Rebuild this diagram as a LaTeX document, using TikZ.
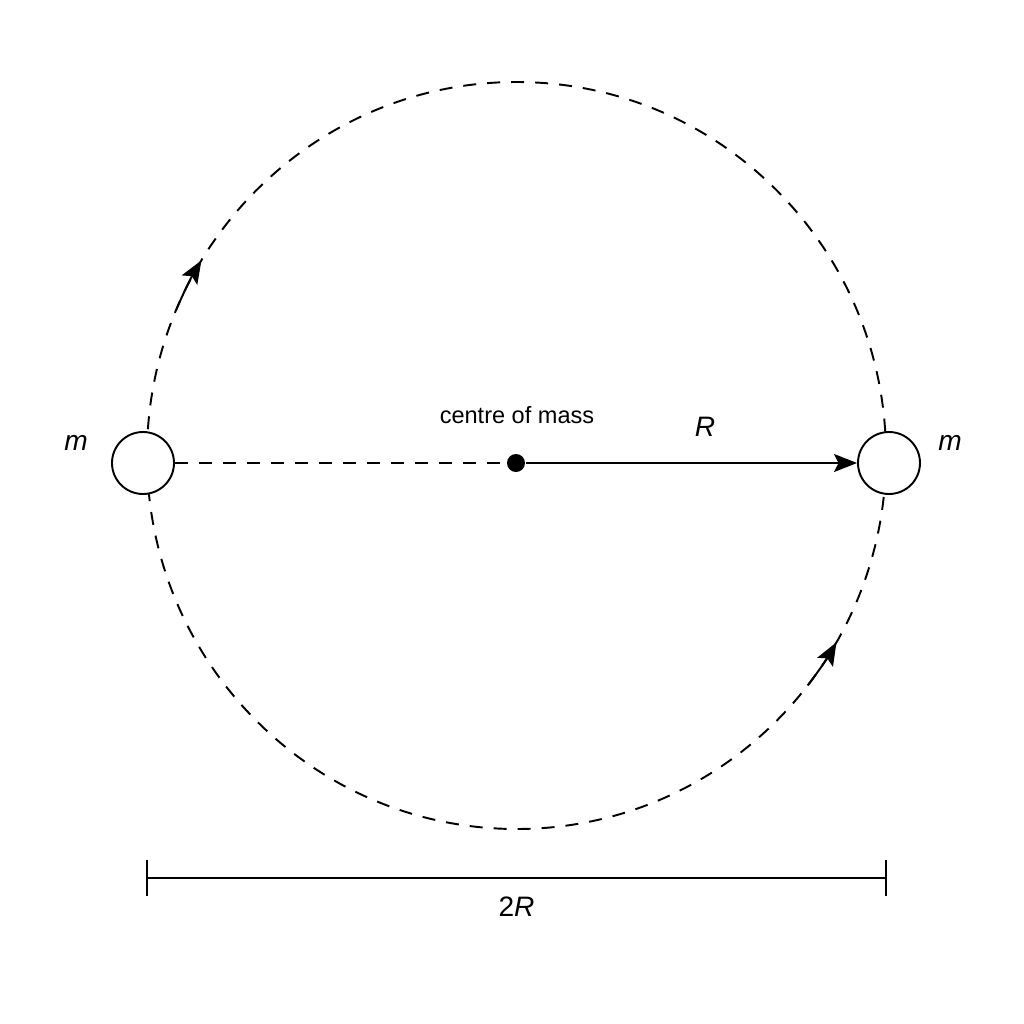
\documentclass[tikz,border=0pt]{standalone}
\usepackage{fontspec}
\setmainfont{Liberation Sans}
\usepackage{tikz}
\usetikzlibrary{arrows.meta,calc}

\begin{document}
\begin{tikzpicture}[line width=1.1pt,
  orbit/.style={dash pattern=on 2.6mm off 2.2mm},
  mass/.style={circle, draw, fill=white, minimum size=1.24cm, inner sep=0pt},
  tip/.style={-{Stealth[length=4.6mm,width=3.6mm,inset=0.9mm]}}]
\useasboundingbox (-10.32,-11.22) rectangle (10.16,9.26);
\draw[orbit] (0.01,0.15) ellipse (7.39 and 7.47);
\node[mass] (mL) at (-7.46,0) {};
\node[mass] (mR) at (7.46,0) {};
\node[circle, fill, inner sep=0pt, minimum size=0.36cm] (com) at (0,0) {};
\node (mLlab) at (-8.8,0.4) {\fontsize{16}{18}\selectfont\itshape m};
\node (mRlab) at (8.68,0.4) {\fontsize{16}{18}\selectfont\itshape m};
\node (comlab) at (0.02,0.96) {\fontsize{13.4}{15}\selectfont centre of mass};
\node (Rlab) at (3.78,0.72) {\fontsize{16}{18}\selectfont\itshape R};
\draw[orbit] (mL) -- (com);
\draw[tip] ($(0.01,0.15)+(157:7.39 and 7.47)$) arc (157:148.5:7.39 and 7.47);
\draw[tip] ($(0.01,0.15)+(-38:7.39 and 7.47)$) arc (-38:-30:7.39 and 7.47);
\draw[tip] (com) -- (mR);
\coordinate (dimL) at (-7.38,-8.3);
\coordinate (dimR) at (7.4,-8.3);
\draw (dimL) -- (dimR)
  node[midway, below=0.25cm] {\fontsize{16}{18}\selectfont 2\textit{R}};
\draw ([yshift=0.36cm]dimL) -- ([yshift=-0.36cm]dimL);
\draw ([yshift=0.36cm]dimR) -- ([yshift=-0.36cm]dimR);
\end{tikzpicture}
\end{document}
